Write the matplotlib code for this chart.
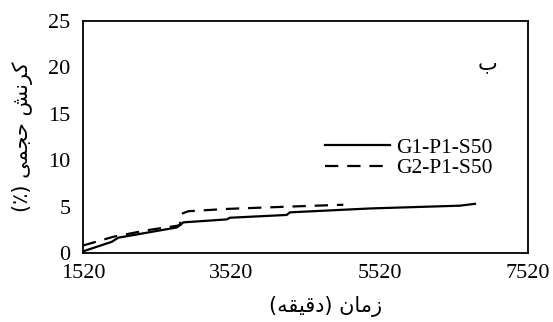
import matplotlib
matplotlib.use("Agg")
import matplotlib.pyplot as plt

# Data (time in minutes, volumetric strain %)
solid_x = [1530, 1547, 1907, 1996, 2783, 2830, 2872, 3457, 3502, 4266, 4311, 5390, 6603, 6805]
solid_y = [0.15, 0.25, 1.2, 1.65, 2.75, 3.0, 3.3, 3.62, 3.8, 4.1, 4.38, 4.8, 5.1, 5.3]
dashed_x = [1520, 1560, 1930, 2380, 2800, 2830, 2840, 2940, 3460, 4300, 5030]
dashed_y = [0.8, 0.9, 1.75, 2.45, 2.95, 3.1, 4.2, 4.5, 4.75, 5.0, 5.2]
labels = ["G1-P1-S50", "G2-P1-S50"]
xticks = [1520, 3520, 5520, 7520]
yticks = [0, 5, 10, 15, 20, 25]

# Persian texts in visual order with presentation forms
xlabel = "(\uFEEA\uFED8\uFEF4\uFED7\uFEA9) \uFEE5\uFE8E\uFEE3\uFEAF"   # زمان (دقیقه)
ylabel = "(\u066A) \uFEF0\uFEE4\uFEA0\uFEA3 \uFEB6\uFEE7\uFEAE\uFEDB"  # کرنش حجمی (٪)
panel = "\uFE8F"  # ب

fig = plt.figure(figsize=(5.53, 3.22), dpi=100)
ax = fig.add_axes([83/553, 1-253/322, 445/553, 232/322])

ax.plot(solid_x, solid_y, color="black", lw=1.6, label=labels[0])
ax.plot(dashed_x, dashed_y, color="black", lw=1.6, dashes=(6, 4), label=labels[1])

ax.set_xlim(1520, 7520)
ax.set_ylim(0, 25)
ax.set_xticks(xticks)
ax.set_yticks(yticks)
serif = "Liberation Serif"
for t in ax.get_xticklabels() + ax.get_yticklabels():
    t.set_fontfamily(serif)
    t.set_fontsize(16)
ax.tick_params(length=0, pad=9)
ax.tick_params(axis="x", pad=8)
for s in ax.spines.values():
    s.set_linewidth(1.3)
    s.set_color("black")

ax.set_xlabel(xlabel, family=["DejaVu Sans"], fontsize=15, labelpad=8)
ax.xaxis.set_label_coords(0.545, -0.185)
ax.set_ylabel(ylabel, family=["DejaVu Sans"], fontsize=15, labelpad=11)

ax.text(6980, 20.5, panel, family=["DejaVu Sans"], fontsize=15, ha="center", va="center")

leg = ax.legend(loc="center left", bbox_to_anchor=(325/553, 1-158/322),
                bbox_transform=fig.transFigure, frameon=False,
                prop={"family": serif, "size": 15.5}, handlelength=3.0,
                handletextpad=0.3, borderpad=0, borderaxespad=0,
                labelspacing=0.0)

fig.savefig("out.png", dpi=100)
